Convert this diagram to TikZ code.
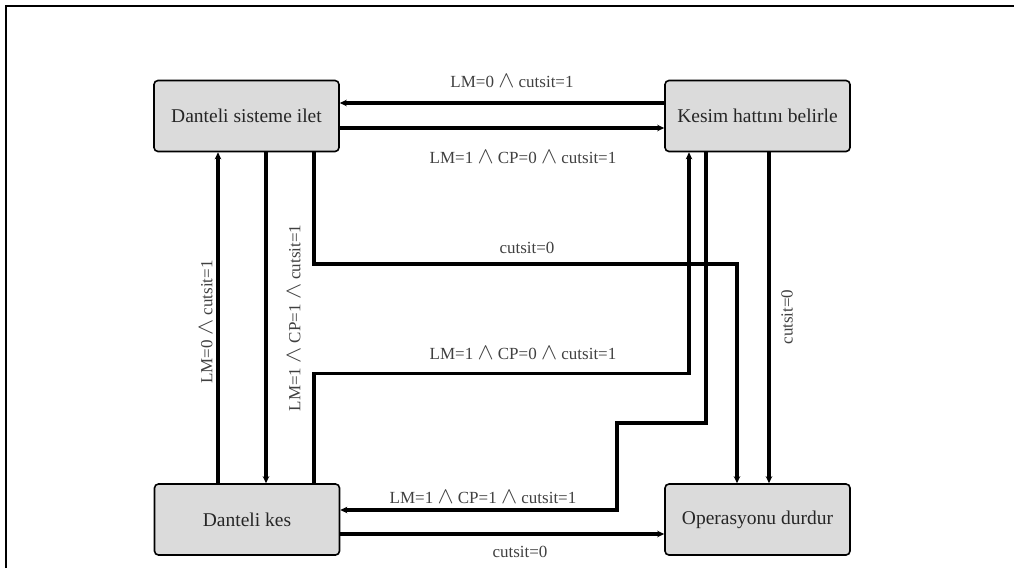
\documentclass[tikz,border=0pt]{standalone}
\usepackage{fontspec}
\setmainfont{Liberation Serif}
\newcommand\cand{ \scalebox{1.4}[1.35]{$\wedge$} }
\usetikzlibrary{arrows.meta}
\begin{document}
\begin{tikzpicture}[x=1pt,y=-1pt,
  state/.style={draw=black,line width=1.6pt,rounded corners=4pt,fill=black!14,
    minimum width=185pt,minimum height=71pt,inner sep=0pt,
    font=\fontsize{19.5}{22}\selectfont,text=black!85},
  flow/.style={line width=3.4pt,-{Stealth[length=7pt,width=6.5pt]}},
  cond/.style={font=\fontsize{17}{19}\selectfont,text=black!75,inner sep=1pt}]
\useasboundingbox (0,0) rectangle (1014,568);
% outer frame (top and left edges)
\draw[line width=2.6pt] (6,568) -- (6,6) -- (1014,6);

% states
\node[state] (ilet)  at (246.5,116)   {Danteli sisteme ilet};
\node[state] (kesim) at (757.5,116)   {Kesim hattını belirle};
\node[state] (kes)   at (247,519.5)   {Danteli kes};
\node[state] (dur)   at (757.5,519.5) {Operasyonu durdur};

% transitions between the top states
\draw[flow] ([yshift=13pt]kesim.west) -- ([yshift=13pt]ilet.east);
\draw[flow] ([yshift=-12pt]ilet.east) -- ([yshift=-12pt]kesim.west);
\node[cond] (c1) at (512,81)  {LM=0\cand cutsit=1};
\node[cond] (c2) at (523,157) {LM=1\cand CP=0\cand cutsit=1};

% transitions between the left states
\draw[flow] ([xshift=-29pt]kes.north) -- ([xshift=-28.5pt]ilet.south);
\draw[flow] ([xshift=19.5pt]ilet.south) -- ([xshift=19pt]kes.north);
\node[cond,rotate=90] (c7) at (206,322) {LM=0\cand cutsit=1};
\node[cond,rotate=90] (c8) at (294,318) {LM=1\cand CP=1\cand cutsit=1};

% stop from the first state
\draw[flow] ([xshift=67.5pt]ilet.south) -- ++(0,111.5) -| ([xshift=-20.5pt]dur.north);
\node[cond] (c3) at (527,248) {cutsit=0};

% cutting state back to the cut-line state
\draw[flow] ([xshift=67pt]kes.north) -- ++(0,-110) -| ([xshift=-68.5pt]kesim.south);
\node[cond] (c4) at (523,353) {LM=1\cand CP=0\cand cutsit=1};

% cut-line state to the cutting state
\draw[flow] ([xshift=-51.5pt]kesim.south) -- ++(0,270.5) -- ++(-89,0)
  |- ([yshift=9.5pt]kes.east);
\node[cond] (c5) at (483,497) {LM=1\cand CP=1\cand cutsit=1};

% stop from the cut-line state
\draw[flow] ([xshift=11.5pt]kesim.south) -- ([xshift=11.5pt]dur.north);
\node[cond,rotate=90] (c9) at (787,317) {cutsit=0};

% stop from the cutting state
\draw[flow] ([yshift=-14.5pt]kes.east) -- ([yshift=-14.5pt]dur.west);
\node[cond] (c6) at (520,552) {cutsit=0};
\end{tikzpicture}
\end{document}
